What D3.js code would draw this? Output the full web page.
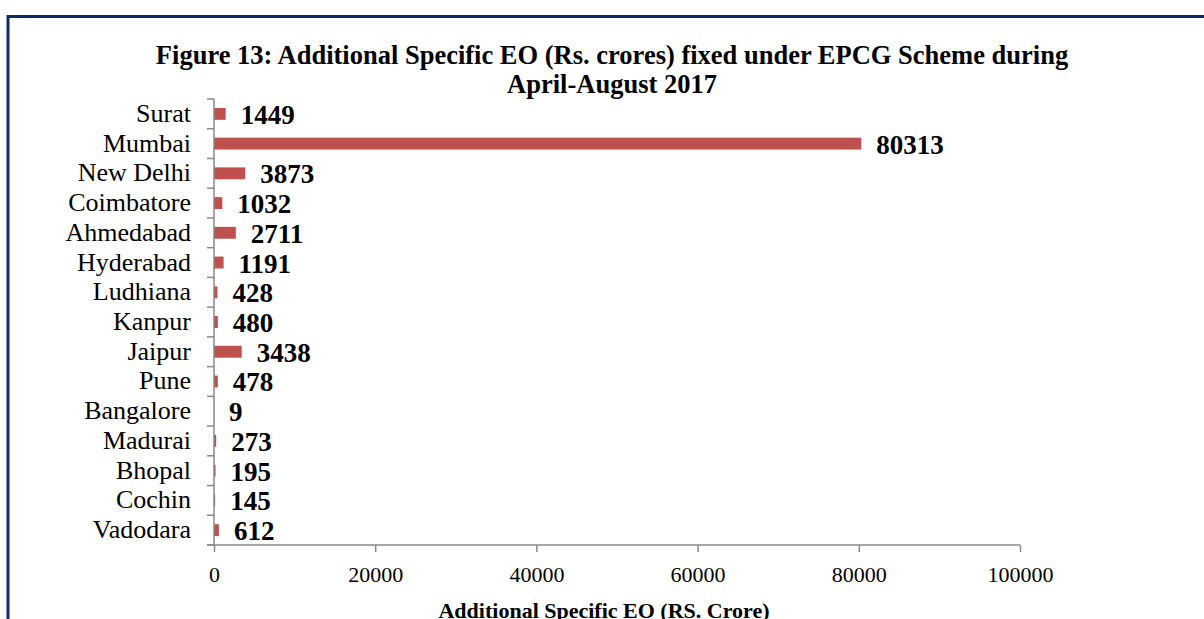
<!DOCTYPE html>
<meta charset="utf-8">
<style>
  body { margin: 0; background: #fff; }
  text { font-family: "Liberation Serif", "Times New Roman", serif; }
</style>
<svg width="1204" height="619"></svg>
<script src="https://d3js.org/d3.v7.min.js"></script>
<script>
  // data
  var cities = ['Surat', 'Mumbai', 'New Delhi', 'Coimbatore', 'Ahmedabad', 'Hyderabad', 'Ludhiana',
    'Kanpur', 'Jaipur', 'Pune', 'Bangalore', 'Madurai', 'Bhopal', 'Cochin', 'Vadodara']
  var values = [1449, 80313, 3873, 1032, 2711, 1191, 428, 480, 3438, 478, 9, 273, 195, 145, 612]
  var xTicks = [0, 20000, 40000, 60000, 80000, 100000]

  var svg = d3.select('svg')

  // frame (navy border, top and left)
  svg.append('path')
    .attr('d', 'M8,620 L8,16.5 L1210,16.5')
    .attr('fill', 'none')
    .attr('stroke', '#12296b')
    .attr('stroke-width', 3)

  var plotL = 214, plotR = 1020, plotT = 99, plotB = 545

  var x = d3.scaleLinear().domain([0, 100000]).range([plotL, plotR])
  var y = d3.scaleBand().domain(cities).range([plotT, plotB]).paddingInner(0.6).paddingOuter(0.3)

  // title
  var title = svg.append('text')
    .attr('text-anchor', 'middle')
    .attr('font-weight', 'bold')
    .attr('font-size', 26.5)
  title.append('tspan').attr('x', 612).attr('y', 64)
    .text('Figure 13: Additional Specific EO (Rs. crores) fixed under EPCG Scheme during')
  title.append('tspan').attr('x', 612).attr('y', 93).text('April-August 2017')

  // bars
  svg.append('g').selectAll('rect')
    .data(values)
    .enter().append('rect')
    .attr('x', x(0))
    .attr('y', function (d, i) { return y(cities[i]) })
    .attr('height', y.bandwidth())
    .attr('width', function (d) { return x(d) - x(0) })
    .attr('fill', '#c0504d')

  // value labels
  svg.append('g').selectAll('text')
    .data(values)
    .enter().append('text')
    .attr('x', function (d) { return x(d) + 15 })
    .attr('y', function (d, i) { return y(cities[i]) + y.bandwidth() / 2 + 10 })
    .attr('font-size', 27)
    .attr('font-weight', 'bold')
    .text(function (d) { return d })

  // y axis with ticks at band edges
  var yg = svg.append('g')
  yg.append('line')
    .attr('x1', plotL).attr('x2', plotL).attr('y1', plotT).attr('y2', plotB)
    .attr('stroke', '#888').attr('stroke-width', 1.5)
  var step = (plotB - plotT) / cities.length
  yg.selectAll('line.tick')
    .data(d3.range(cities.length + 1))
    .enter().append('line')
    .attr('class', 'tick')
    .attr('x1', plotL - 7).attr('x2', plotL)
    .attr('y1', function (i) { return plotT + i * step })
    .attr('y2', function (i) { return plotT + i * step })
    .attr('stroke', '#888').attr('stroke-width', 1.5)
  yg.selectAll('text')
    .data(cities)
    .enter().append('text')
    .attr('x', 191)
    .attr('y', function (d) { return y(d) + y.bandwidth() / 2 + 8 })
    .attr('text-anchor', 'end')
    .attr('font-size', 26)
    .text(function (d) { return d })

  // x axis
  var xAxis = d3.axisBottom(x).tickValues(xTicks).tickSize(7).tickPadding(14).tickFormat(d3.format('d'))
  var xg = svg.append('g')
    .attr('transform', 'translate(0,' + plotB + ')')
    .call(xAxis)
  xg.select('.domain').attr('stroke', '#888').attr('stroke-width', 1.5)
    .attr('d', 'M' + (plotL - 7) + ',0H' + plotR)
  xg.selectAll('.tick line').attr('stroke', '#888').attr('stroke-width', 1.5)
  xg.selectAll('.tick text')
    .attr('font-family', '"Liberation Serif", "Times New Roman", serif')
    .attr('font-size', 22)
    .attr('fill', '#000')

  svg.append('text')
    .attr('x', 604)
    .attr('y', 618)
    .attr('text-anchor', 'middle')
    .attr('font-weight', 'bold')
    .attr('font-size', 22)
    .text('Additional Specific EO (RS. Crore)')
</script>
